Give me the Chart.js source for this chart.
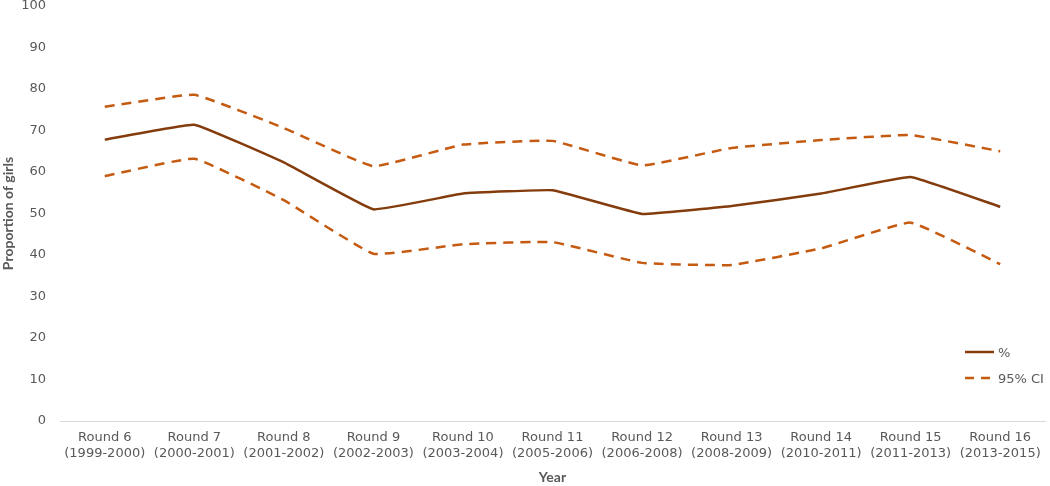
<!DOCTYPE html>
<html>
<head>
<meta charset="utf-8">
<script src="https://cdn.jsdelivr.net/npm/chart.js@4"></script>
<style>
  body { margin: 0; background: #fff; }
  .wrap { position: relative; width: 1050px; height: 486px; }
  .legend { position: absolute; left: 965px; top: 339px; font-family: "DejaVu Sans", sans-serif; font-size: 13px; color: #595959; }
  .legend div { display: flex; align-items: center; height: 26px; }
  .legend svg { margin-right: 4px; }
</style>
</head>
<body>
<div class="wrap">
  <canvas id="myChart" width="1050" height="486"></canvas>
  <div class="legend">
    <div><svg width="29" height="6"><line x1="0" y1="3" x2="29" y2="3" stroke="#843c0c" stroke-width="2.5"/></svg>%</div>
    <div><svg width="29" height="6"><line x1="0" y1="3" x2="29" y2="3" stroke="#c55a11" stroke-width="2.5" stroke-dasharray="9 7"/></svg>95% CI</div>
  </div>
</div>
<script>
const rounds = ["Round 6", "Round 7", "Round 8", "Round 9", "Round 10", "Round 11", "Round 12", "Round 13", "Round 14", "Round 15", "Round 16"];
const years = ["(1999-2000)", "(2000-2001)", "(2001-2002)", "(2002-2003)", "(2003-2004)", "(2005-2006)", "(2006-2008)", "(2008-2009)", "(2010-2011)", "(2011-2013)", "(2013-2015)"];
const percent = [67.8, 71.4, 62.3, 51, 54.8, 55.6, 49.9, 51.8, 54.8, 58.8, 51.6];
const upperCI = [75.7, 78.6, 70.6, 61.4, 66.6, 67.5, 61.6, 65.8, 67.7, 68.9, 65];
const lowerCI = [59, 63.2, 53.2, 40.3, 42.6, 43.1, 38.1, 37.6, 41.6, 47.8, 37.8];

const textColor = "#595959";
const tickFont = "'DejaVu Sans', sans-serif";
const titleFont = "Lato, 'DejaVu Sans', sans-serif";

const ctx = document.getElementById("myChart").getContext("2d");
const dashed = (label, data) => ({
  label,
  data,
  borderColor: "#c55a11",
  borderWidth: 2.5,
  borderDash: [10, 7],
  pointRadius: 0,
  tension: 0.1,
  fill: false,
});

new Chart(ctx, {
  type: "line",
  data: {
    labels: rounds.map((r, i) => [r, years[i]]),
    datasets: [
      {
        label: "%",
        data: percent,
        borderColor: "#843c0c",
        borderWidth: 2.5,
        pointRadius: 0,
        tension: 0.08,
        fill: false,
      },
      dashed("95% CI", upperCI),
      dashed("95% CI lower", lowerCI),
    ],
  },
  options: {
    responsive: false,
    animation: false,
    layout: { padding: { top: 6, right: 5, left: 0, bottom: 0 } },
    plugins: { legend: { display: false }, tooltip: { enabled: false } },
    scales: {
      x: {
        offset: true,
        grid: { display: false, drawTicks: false },
        border: { color: "#d9d9d9", width: 1 },
        ticks: {
          color: textColor,
          font: { family: tickFont, size: 13 },
          maxRotation: 0,
          autoSkip: false,
          padding: 9,
        },
        title: {
          display: true,
          text: "Year",
          color: textColor,
          font: { family: titleFont, size: 14, weight: "bold" },
          padding: 0,
        },
        afterFit: (s) => { s.height = 65; s.paddingLeft = 0; s.paddingRight = 0; },
      },
      y: {
        min: 0,
        max: 100,
        grid: { display: false, drawTicks: false },
        border: { display: false },
        ticks: {
          stepSize: 10,
          color: textColor,
          font: { family: tickFont, size: 13 },
          padding: 14,
        },
        title: {
          display: true,
          text: "Proportion of girls",
          color: textColor,
          font: { family: titleFont, size: 14, weight: "bold" },
          padding: 0,
        },
        afterFit: (s) => { s.width = 60; s.paddingTop = 0; s.paddingBottom = 0; },
      },
    },
  },
});
</script>
</body>
</html>
